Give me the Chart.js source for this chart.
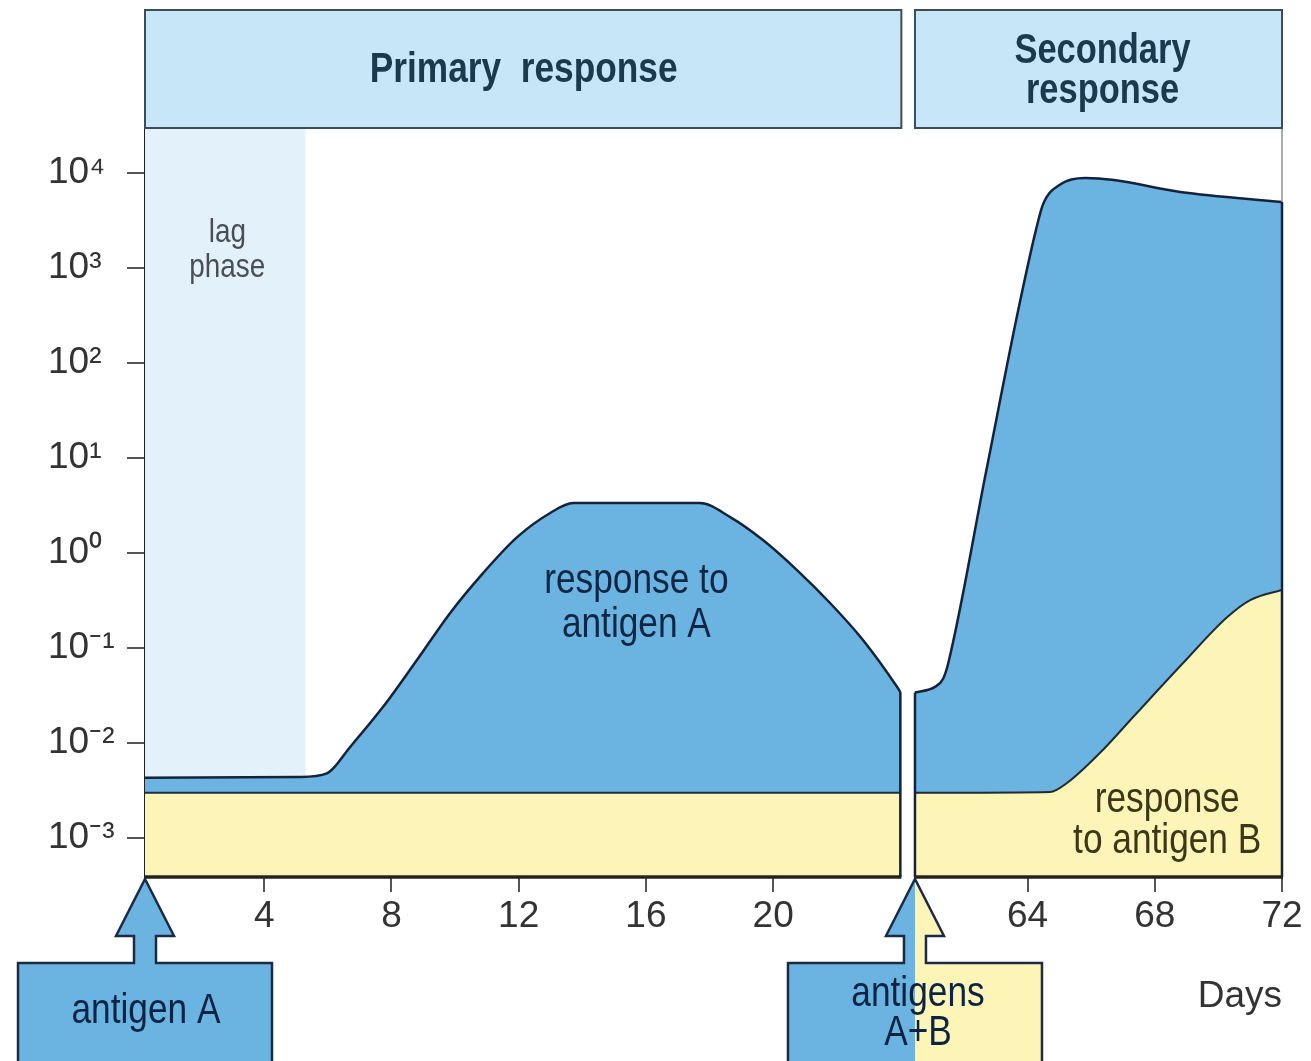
<!DOCTYPE html>
<html>
<head>
<meta charset="utf-8">
<script src="https://cdn.jsdelivr.net/npm/chart.js@4/dist/chart.umd.min.js"></script>
<style>
html,body{margin:0;padding:0;background:#ffffff;}
canvas{display:block;}
</style>
</head>
<body>
<canvas id="c" width="1311" height="1061"></canvas>
<script>
// ---------------- DATA ----------------
// Primary response (days 0-24)
const primaryDaysA      = [0.25, 5.12, 5.97, 6.70, 7.73, 8.80, 9.84, 10.88, 11.95, 12.99, 13.71, 17.70, 18.65, 19.68, 20.75, 21.79, 22.83, 23.90, 24.0];
const primaryResponseA  = [0.0043, 0.0044, 0.0048, 0.0091, 0.0239, 0.0748, 0.233, 0.615, 1.47, 2.64, 3.36, 3.36, 2.39, 1.37, 0.662, 0.298, 0.121, 0.0389, 0.0344];
const primaryDaysB      = [0.25, 24.0];
const primaryResponseB  = [0.003, 0.003];
// Secondary response (days 60-72)
const secondaryDaysA     = [60.46, 61.09, 61.34, 61.50, 62.70, 63.70, 64.27, 64.49, 65.05, 65.81, 66.72, 68.80, 72];
const secondaryResponseA = [0.034, 0.039, 0.0472, 0.068, 7.3, 352, 2570, 4720, 7660, 8860, 8430, 6310, 4950];
const secondaryDaysB     = [60.46, 61.56, 64.71, 65.24, 66.28, 67.32, 68.89, 70.28, 71.0, 72];
const secondaryResponseB = [0.003, 0.003, 0.00305, 0.0038, 0.0079, 0.0188, 0.0695, 0.212, 0.32, 0.41];
// Lag phase
const lagPhaseDays = [0.25, 5.3];
// Ticks
const xTickDays   = [4, 8, 12, 16, 20, 64, 68, 72];
const yTickValues = [0.001, 0.01, 0.1, 1, 10, 100, 1000, 10000];
const yTickLabels = ['10\u207B\u00B3', '10\u207B\u00B2', '10\u207B\u00B9', '10\u2070', '10\u00B9', '10\u00B2', '10\u00B3', '10\u2074'];
// Texts
const panelTitles   = ['Primary  response', ['Secondary', 'response']];
const xAxisTitle    = 'Days';
const lagLabel      = ['lag', 'phase'];
const labelA        = ['response to', 'antigen A'];
const labelB        = ['response', 'to antigen B'];
const arrowLabelA   = ['antigen A'];
const arrowLabelAB  = ['antigens', 'A+B'];

// ------------- axis break (days 24 -> 60 removed) -------------
const BREAK_SHIFT = 36;
const toPos   = d => (d >= 40 ? d - BREAK_SHIFT : d);
const fromPos = p => (p > 24.2 ? p + BREAK_SHIFT : p);

// ------------- styling -------------
const BLUE = '#6bb3e1', YELLOW = '#fdf4b8', HEADER = '#c7e7f8', LAG = '#e3f1fa';
const NAVY = '#14233a', OLIVE = '#3b3718';
const c0 = document.createElement('canvas').getContext('2d');
c0.font = '40px "Liberation Sans Narrow", monospace';
const wN = c0.measureText('abcdefghij0123').width;
c0.font = '40px monospace';
const wM = c0.measureText('abcdefghij0123').width;
const hasNarrow = Math.abs(wN - wM) > 1;
const TICK_FAMILY = hasNarrow ? '"Liberation Sans Narrow", "Liberation Sans", sans-serif' : '"Liberation Sans", Arial, sans-serif';
const TICK_SIZE = hasNarrow ? 43 : 37;

Chart.defaults.font.family = TICK_FAMILY;

function pts(days, vals) { return days.map((d, i) => ({ x: toPos(d), y: vals[i] })); }

function condText(ctx, s, cx, base, size, weight, color) {
  ctx.save();
  ctx.font = `${weight} ${size}px "Liberation Sans", Arial, sans-serif`;
  ctx.fillStyle = color;
  ctx.textAlign = 'center';
  ctx.textBaseline = 'alphabetic';
  ctx.translate(cx, base);
  ctx.scale(0.82, 1);
  ctx.fillText(s, 0, 0);
  ctx.restore();
}

function drawArrow(ctx, tipX, tipY, split) {
  const bw = 127, sw = 11, hw = 29, headBase = 936, boxTop = 963, bottom = 1075;
  ctx.save();
  ctx.beginPath();
  ctx.moveTo(tipX - bw, bottom);
  ctx.lineTo(tipX - bw, boxTop);
  ctx.lineTo(tipX - sw, boxTop);
  ctx.lineTo(tipX - sw, headBase);
  ctx.lineTo(tipX - hw, headBase);
  ctx.lineTo(tipX, tipY);
  ctx.lineTo(tipX + hw, headBase);
  ctx.lineTo(tipX + sw, headBase);
  ctx.lineTo(tipX + sw, boxTop);
  ctx.lineTo(tipX + bw, boxTop);
  ctx.lineTo(tipX + bw, bottom);
  ctx.closePath();
  if (split) {
    ctx.save(); ctx.clip();
    ctx.fillStyle = BLUE;   ctx.fillRect(tipX - bw - 2, tipY - 2, bw + 2, bottom - tipY + 4);
    ctx.fillStyle = YELLOW; ctx.fillRect(tipX, tipY - 2, bw + 2, bottom - tipY + 4);
    ctx.restore();
  } else {
    ctx.fillStyle = BLUE; ctx.fill();
  }
  ctx.lineWidth = 2.5; ctx.strokeStyle = '#1c2b44'; ctx.lineJoin = 'miter';
  ctx.stroke();
  ctx.restore();
}

const decor = {
  id: 'decor',
  beforeDatasetsDraw(chart) {
    const { ctx, chartArea: a, scales: { x } } = chart;
    const x0 = x.getPixelForValue(toPos(lagPhaseDays[0]));
    const x1 = x.getPixelForValue(toPos(lagPhaseDays[1]));
    ctx.save();
    ctx.fillStyle = LAG;
    ctx.fillRect(x0, a.top, x1 - x0, a.bottom - a.top);
    ctx.restore();
  },
  afterDatasetsDraw(chart) {
    const { ctx, chartArea: a, scales: { x, y } } = chart;
    const pL = x.getPixelForValue(toPos(primaryDaysA[0]));
    const pR = x.getPixelForValue(toPos(primaryDaysA[primaryDaysA.length - 1]));
    const sL = x.getPixelForValue(toPos(secondaryDaysA[0]));
    const sR = x.getPixelForValue(toPos(secondaryDaysA[secondaryDaysA.length - 1]));
    const pRy = y.getPixelForValue(primaryResponseA[primaryResponseA.length - 1]);
    const sLy = y.getPixelForValue(secondaryResponseA[0]);
    const sRy = y.getPixelForValue(secondaryResponseA[secondaryResponseA.length - 1]);
    ctx.save();
    ctx.strokeStyle = '#8a8f94'; ctx.lineWidth = 1.5;
    ctx.beginPath(); ctx.moveTo(sR, a.top); ctx.lineTo(sR, sRy); ctx.stroke();
    ctx.strokeStyle = NAVY; ctx.lineWidth = 2.5;
    ctx.beginPath(); ctx.moveTo(pR, pRy); ctx.lineTo(pR, a.bottom); ctx.stroke();
    ctx.beginPath(); ctx.moveTo(sL, sLy); ctx.lineTo(sL, a.bottom); ctx.stroke();
    ctx.beginPath(); ctx.moveTo(sR, sRy); ctx.lineTo(sR, a.bottom); ctx.stroke();
    ctx.strokeStyle = '#26241a'; ctx.lineWidth = 3.5;
    ctx.beginPath(); ctx.moveTo(pL, a.bottom); ctx.lineTo(pR + 1, a.bottom); ctx.stroke();
    ctx.beginPath(); ctx.moveTo(sL - 1, a.bottom); ctx.lineTo(sR + 1, a.bottom); ctx.stroke();
    ctx.restore();
  },
  afterDraw(chart) {
    const { ctx, chartArea: a, scales: { x, y } } = chart;
    const pL = x.getPixelForValue(toPos(primaryDaysA[0]));
    const pR = x.getPixelForValue(toPos(primaryDaysA[primaryDaysA.length - 1]));
    const sL = x.getPixelForValue(toPos(secondaryDaysA[0]));
    const sR = x.getPixelForValue(toPos(secondaryDaysA[secondaryDaysA.length - 1]));
    ctx.save();
    ctx.fillStyle = HEADER; ctx.strokeStyle = '#3d4d58'; ctx.lineWidth = 2;
    ctx.fillRect(pL, 10, pR - pL + 1, a.top - 10);
    ctx.strokeRect(pL, 10, pR - pL + 1, a.top - 10);
    ctx.fillRect(sL, 10, sR - sL, a.top - 10);
    ctx.strokeRect(sL, 10, sR - sL, a.top - 10);
    ctx.restore();
    condText(ctx, panelTitles[0], (pL + pR) / 2 + 1, 82, 43, 'bold', '#1b3a4d');
    condText(ctx, panelTitles[1][0], (sL + sR) / 2 + 4, 63, 42, 'bold', '#1b3a4d');
    condText(ctx, panelTitles[1][1], (sL + sR) / 2 + 4, 103, 42, 'bold', '#1b3a4d');
    const lagX = (x.getPixelForValue(toPos(lagPhaseDays[0])) + x.getPixelForValue(toPos(lagPhaseDays[1]))) / 2;
    condText(ctx, lagLabel[0], lagX + 2, y.getPixelForValue(Math.pow(10, 3.27)), 34, 'normal', '#4a4f55');
    condText(ctx, lagLabel[1], lagX + 2, y.getPixelForValue(Math.pow(10, 2.905)), 34, 'normal', '#4a4f55');
    const aX = x.getPixelForValue(toPos(15.7));
    condText(ctx, labelA[0], aX, y.getPixelForValue(Math.pow(10, -0.42)), 43, 'normal', '#0f2745');
    condText(ctx, labelA[1], aX, y.getPixelForValue(Math.pow(10, -0.885)), 43, 'normal', '#0f2745');
    const bX = x.getPixelForValue(toPos(68.39));
    condText(ctx, labelB[0], bX, y.getPixelForValue(Math.pow(10, -2.726)), 43, 'normal', OLIVE);
    condText(ctx, labelB[1], bX, y.getPixelForValue(Math.pow(10, -3.158)), 43, 'normal', OLIVE);
    drawArrow(ctx, pL, a.bottom + 2, false);
    drawArrow(ctx, sL, a.bottom + 2, true);
    condText(ctx, arrowLabelA[0], pL + 1, 1023, 43, 'normal', '#0b2443');
    condText(ctx, arrowLabelAB[0], sL + 3, 1006, 43, 'normal', '#0b2443');
    condText(ctx, arrowLabelAB[1], sL + 3, 1045, 43, 'normal', '#0b2443');
  }
};

new Chart(document.getElementById('c'), {
  type: 'line',
  data: {
    datasets: [
      { label: 'response to antigen B (primary)', data: pts(primaryDaysB, primaryResponseB),
        borderColor: '#1d3044', borderWidth: 2, backgroundColor: YELLOW, fill: 'start', pointRadius: 0 },
      { label: 'response to antigen A (primary)', data: pts(primaryDaysA, primaryResponseA),
        borderColor: NAVY, borderWidth: 2.5, backgroundColor: BLUE, fill: 0, pointRadius: 0,
        cubicInterpolationMode: 'monotone' },
      { label: 'response to antigen B (secondary)', data: pts(secondaryDaysB, secondaryResponseB),
        borderColor: '#1f2d33', borderWidth: 2, backgroundColor: YELLOW, fill: 'start', pointRadius: 0,
        cubicInterpolationMode: 'monotone' },
      { label: 'response to antigen A (secondary)', data: pts(secondaryDaysA, secondaryResponseA),
        borderColor: NAVY, borderWidth: 2.5, backgroundColor: BLUE, fill: 2, pointRadius: 0,
        cubicInterpolationMode: 'monotone' }
    ]
  },
  options: {
    responsive: false,
    animation: false,
    events: [],
    layout: { padding: { left: 48, top: 128, right: 29, bottom: 42 } },
    plugins: { legend: { display: false }, tooltip: { enabled: false } },
    scales: {
      x: {
        type: 'linear', min: 0.25, max: 36, z: 1,
        border: { display: false },
        grid: { drawOnChartArea: false, drawTicks: true, tickLength: 15, color: '#555', lineWidth: 2 },
        ticks: {
          autoSkip: false, maxRotation: 0, padding: 3, color: '#333',
          font: { size: TICK_SIZE, family: TICK_FAMILY },
          callback: v => String(Math.round(fromPos(v)))
        },
        afterBuildTicks: s => { s.ticks = xTickDays.map(d => ({ value: toPos(d) })); },
        afterFit: s => { s.height = 142; },
        title: { display: true, text: xAxisTitle, align: 'end', color: '#333',
                 font: { size: TICK_SIZE, family: TICK_FAMILY }, padding: { top: 0, bottom: 0 } }
      },
      y: {
        type: 'logarithmic', position: 'left', z: 1,
        min: Math.pow(10, -3.41), max: Math.pow(10, 4.474),
        border: { display: true, color: '#222', width: 3 },
        grid: { drawOnChartArea: false, drawTicks: true, tickLength: 18, color: '#555', lineWidth: 2 },
        ticks: {
          crossAlign: 'far', color: '#333', padding: 4,
          font: { size: TICK_SIZE, family: TICK_FAMILY },
          callback: v => { const i = yTickValues.findIndex(t => Math.abs(Math.log10(t) - Math.log10(v)) < 1e-6); return i >= 0 ? yTickLabels[i] : ''; }
        },
        afterBuildTicks: s => { s.ticks = yTickValues.map(v => ({ value: v })); },
        afterFit: s => { s.width = 97; }
      }
    }
  },
  plugins: [decor]
});
</script>
</body>
</html>
